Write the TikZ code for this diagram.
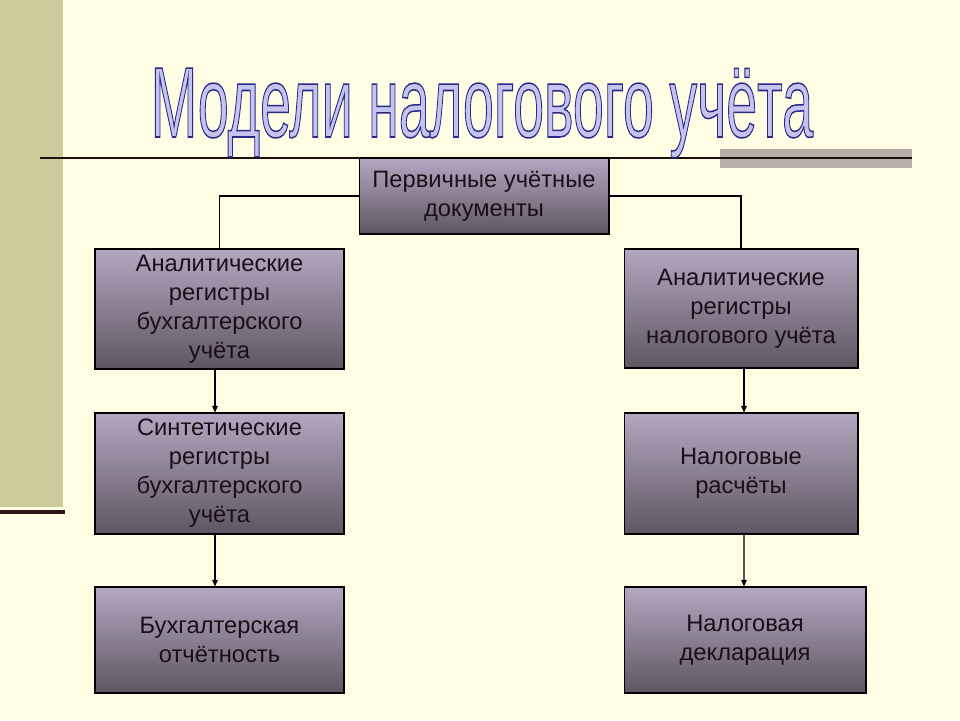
\documentclass[tikz,border=0pt]{standalone}
\usepackage{fontspec}
\setmainfont{Liberation Sans}
\usepackage{graphicx}
\usepackage{xcolor}
\usepackage{tikz}
\usetikzlibrary{arrows.meta}
\definecolor{paper}{HTML}{FFFDE3}
\definecolor{strip}{HTML}{CBCB9C}
\definecolor{stripline}{HTML}{2E1416}
\definecolor{rule}{HTML}{1C0E0E}
\definecolor{rulebar}{HTML}{B8B0A8}
\definecolor{boxtop}{HTML}{B4A7C1}
\definecolor{boxbot}{HTML}{5E5661}
\definecolor{boxtext}{HTML}{1A0F18}
\definecolor{titlefill}{HTML}{C4C4EE}
\newfontfamily\titlefont[FakeBold=1.5]{Liberation Sans}
\newcommand\titlestroke{\special{pdf:code 0.16 0.16 0.53 RG}}

\begin{document}
\begin{tikzpicture}[x=0.02cm,y=-0.02cm,
  box/.style={draw=black,line width=0.6pt,top color=boxtop,bottom color=boxbot,
    text=boxtext,align=center,inner sep=0pt,font=\fontsize{13.5}{16.5}\selectfont},
  arr/.style={-{Triangle[length=0.13cm,width=0.11cm]},line width=0.6pt}]
  \useasboundingbox[fill=paper] (0,0) rectangle (960,720);
  \fill[strip] (0,0) rectangle (63,507);
  \fill[stripline] (0,510) rectangle (65,514);
  \fill[rulebar] (720,149) rectangle (912,168);
  \draw[rule,line width=1.2pt] (40,158) -- (912,158);
  \node[anchor=base] (title) at (482,137) {\scalebox{0.556}[1]{\fontsize{57}{60}\titlefont\color{titlefill}\titlestroke Модели налогового учёта}};
  \node[box,minimum width=5cm,minimum height=1.52cm] (0) at (484,196) {Первичные учётные\\документы};
  \node[box,minimum width=4.98cm,minimum height=2.4cm] (11) at (219.5,309) {Аналитические\\регистры\\бухгалтерского\\учёта};
  \node[box,minimum width=4.98cm,minimum height=2.42cm] (12) at (219.5,473.5) {Синтетические\\регистры\\бухгалтерского\\учёта};
  \node[box,minimum width=4.98cm,minimum height=2.12cm] (13) at (219.5,640) {Бухгалтерская\\отчётность};
  \node[box,minimum width=4.68cm,minimum height=2.38cm] (21) at (741,308.5) {Аналитические\\регистры\\налогового учёта};
  \node[box,minimum width=4.68cm,minimum height=2.42cm] (22) at (741,473.5) {Налоговые\\расчёты};
  \node[box,minimum width=4.84cm,minimum height=2.12cm] (23) at (745,640) {Налоговая\\декларация};
  \draw[line width=0.6pt] (0.west) -| (11.north);
  \draw[line width=0.6pt] (0.east) -| (21.north);
  \draw[arr] ([xshift=-0.09cm]11.south) -- ([xshift=-0.09cm]12.north);
  \draw[arr] ([xshift=-0.09cm]12.south) -- ([xshift=-0.09cm]13.north);
  \draw[arr] ([xshift=0.06cm]21.south) -- ([xshift=0.06cm]22.north);
  \draw[arr] ([xshift=0.06cm]22.south) -- ([xshift=-0.02cm]23.north);
\end{tikzpicture}
\end{document}
